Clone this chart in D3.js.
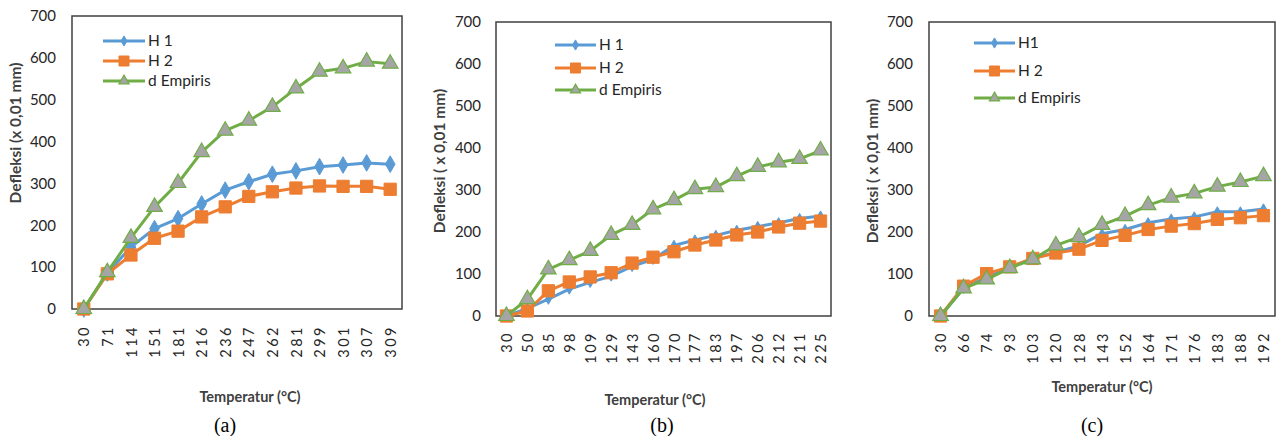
<!DOCTYPE html>
<html>
<head>
<meta charset="utf-8">
<script src="https://cdn.jsdelivr.net/npm/d3@7"></script>
<style>
  body { margin: 0; background: #fff; }
  svg { display: block; }
</style>
</head>
<body>
<div id="graphsRoot"></div>
<script>
// values
var catsA = ["30","71","114","151","181","216","236","247","262","281","299","301","307","309"];
var h1A   = [0, 86, 148, 192, 216, 251, 284, 304, 322, 330, 340, 344, 349, 346];
var h2A   = [0, 84, 129, 169, 186, 220, 244, 269, 280, 289, 294, 293, 293, 286];
var empA  = [0, 88, 170, 244, 301, 375, 426, 450, 483, 527, 567, 575, 591, 586];

var catsB = ["30","50","85","98","109","129","143","160","170","177","183","197","206","212","211","225"];
var h1B   = [0, 18, 40, 64, 80, 95, 118, 135, 168, 181, 192, 204, 213, 222, 232, 238];
var h2B   = [0, 12, 60, 81, 93, 103, 126, 140, 153, 169, 181, 193, 200, 212, 221, 226];
var empB  = [0, 40, 111, 133, 155, 193, 217, 254, 276, 302, 307, 333, 355, 366, 374, 394];

var catsC = ["30","66","74","93","103","120","128","143","152","164","171","176","183","188","192"];
var h1C   = [0, 66, 92, 115, 137, 152, 167, 196, 206, 222, 231, 236, 248, 248, 255];
var h2C   = [0, 71, 101, 117, 137, 150, 159, 180, 192, 206, 214, 220, 230, 234, 239];
var empC  = [0, 66, 87, 114, 135, 168, 188, 217, 238, 264, 282, 292, 308, 319, 333];

var yTicks = [0, 100, 200, 300, 400, 500, 600, 700];
var seriesNames = [["H 1","H 2","d Empiris"], ["H 1","H 2","d Empiris"], ["H1","H 2","d Empiris"]];
var captions = ["(a)", "(b)", "(c)"];
var yTitles = ["Defleksi (x 0,01 mm)", "Defleksi ( x 0,01 mm)", "Defleksi ( x 0,01 mm)"];
var xTitle = "Temperatur (\u00b0C)";

var blue = "#5B9BD5", orange = "#ED7D31", green = "#70AD47", grey = "#A5A5A5";
var textFont = "Lato, 'Open Sans', sans-serif";

var svg = d3.select("#graphsRoot").append("svg")
    .attr("width", 1277)
    .attr("height", 436);

// layout of each panel (pixels)
var panels = [
    {cats: catsA, data: [h1A, h2A, empA], left: 72, right: 402, top: 16, bottom: 309,
     yLab: 56, yTitleX: 16, yTitleY: 133, xTitleX: 250, xTitleY: 402, capX: 225,
     legX0: 103, legX1: 145, legY: [41, 61, 81], tickTop: 325, dia: 80},
    {cats: catsB, data: [h1B, h2B, empB], left: 496, right: 831, top: 22, bottom: 316,
     yLab: 481, yTitleX: 440, yTitleY: 161, xTitleX: 655, xTitleY: 405, capX: 662,
     legX0: 555, legX1: 596, legY: [45, 68, 90], tickTop: 331, dia: 30},
    {cats: catsC, data: [h1C, h2C, empC], left: 929, right: 1275, top: 22, bottom: 316,
     yLab: 913, yTitleX: 873, yTitleY: 171, xTitleX: 1102, xTitleY: 392, capX: 1092,
     legX0: 974, legX1: 1015, legY: [43, 71, 98], tickTop: 331, dia: 30}
];

for (var p = 0; p < panels.length; p++) {
    makePanel(panels[p], p);
}

function markerFor(k, panel) {
    if (k == 0) return d3.symbol().type(d3.symbolDiamond).size(panel.dia)();
    if (k == 1) return d3.symbol().type(d3.symbolSquare).size(150)();
    return d3.symbol().type(d3.symbolTriangle).size(105)();
}

function styleMarker(sel, k) {
    if (k == 0) sel.attr("fill", blue).attr("stroke", blue).attr("stroke-width", 1);
    else if (k == 1) sel.attr("fill", orange).attr("stroke", orange).attr("stroke-width", 1);
    else sel.attr("fill", grey).attr("stroke", green).attr("stroke-width", 1.2);
}

function makePanel(panel, idx) {
    var g = svg.append("g");
    var colors = [blue, orange, green];

    var x = d3.scalePoint()
        .domain(panel.cats)
        .range([panel.left, panel.right])
        .padding(0.5);

    var y = d3.scaleLinear()
        .domain([0, 700])
        .range([panel.bottom, panel.top]);

    // y axis labels
    var yAxis = g.append("g")
        .attr("transform", "translate(" + panel.yLab + ",0)")
        .call(d3.axisLeft(y).tickValues(yTicks).tickSize(0).tickPadding(0));
    yAxis.select(".domain").remove();
    yAxis.selectAll("text")
        .attr("font-family", textFont)
        .attr("font-size", 15)
        .attr("fill", "#262626");

    // x axis labels, rotated
    var xAxis = g.append("g")
        .attr("transform", "translate(0," + panel.tickTop + ")")
        .call(d3.axisBottom(x).tickSize(0).tickPadding(0));
    xAxis.select(".domain").remove();
    xAxis.selectAll("text")
        .attr("font-family", textFont)
        .attr("font-size", 14.5)
        .attr("fill", "#262626")
        .attr("letter-spacing", "2.5px")
        .attr("text-anchor", "end")
        .attr("y", 0)
        .attr("dy", "0.35em")
        .attr("transform", "rotate(-90)");

    // plot frame
    g.append("rect")
        .attr("x", panel.left)
        .attr("y", panel.top)
        .attr("width", panel.right - panel.left)
        .attr("height", panel.bottom - panel.top)
        .attr("fill", "none")
        .attr("stroke", "#404040")
        .attr("stroke-width", 1.5);

    var line = d3.line()
        .x(function(d, i) { return x(panel.cats[i]); })
        .y(function(d) { return y(d); });

    for (var k = 0; k < 3; k++) {
        g.append("path")
            .datum(panel.data[k])
            .attr("d", line)
            .attr("fill", "none")
            .attr("stroke", colors[k])
            .attr("stroke-width", 3)
            .attr("stroke-linejoin", "round");

        var pts = g.selectAll(".m" + k)
            .data(panel.data[k])
            .enter().append("path")
            .attr("class", "m" + k)
            .attr("d", markerFor(k, panel))
            .attr("transform", function(d, i) { return "translate(" + x(panel.cats[i]) + "," + y(d) + ")"; });
        styleMarker(pts, k);

        // legend entry
        var ly = panel.legY[k];
        g.append("line")
            .attr("x1", panel.legX0).attr("x2", panel.legX1)
            .attr("y1", ly).attr("y2", ly)
            .attr("stroke", colors[k])
            .attr("stroke-width", 3);
        var lm = g.append("path")
            .attr("d", k == 1 ? d3.symbol().type(d3.symbolSquare).size(100)() :
                       k == 0 ? d3.symbol().type(d3.symbolDiamond).size(30)() :
                                d3.symbol().type(d3.symbolTriangle).size(45)())
            .attr("transform", "translate(" + ((panel.legX0 + panel.legX1) / 2) + "," + ly + ")");
        styleMarker(lm, k);
        g.append("text")
            .attr("x", panel.legX1 + 3)
            .attr("y", ly)
            .attr("dy", "0.35em")
            .attr("font-family", textFont)
            .attr("font-size", 15.5)
            .attr("fill", "#262626")
            .text(seriesNames[idx][k]);
    }

    // axis titles
    g.append("text")
        .attr("transform", "translate(" + panel.yTitleX + "," + panel.yTitleY + ") rotate(-90)")
        .attr("text-anchor", "middle")
        .attr("dy", "0.35em")
        .attr("font-family", textFont)
        .attr("font-size", 15.5)
        .attr("font-weight", "bold")
        .attr("fill", "#404040")
        .text(yTitles[idx]);

    g.append("text")
        .attr("x", panel.xTitleX)
        .attr("y", panel.xTitleY)
        .attr("text-anchor", "middle")
        .attr("font-family", textFont)
        .attr("font-size", 14.5)
        .attr("font-weight", "bold")
        .attr("fill", "#404040")
        .text(xTitle);

    // caption under the panel
    g.append("text")
        .attr("x", panel.capX)
        .attr("y", 432)
        .attr("text-anchor", "middle")
        .attr("font-family", "'Liberation Serif', 'Times New Roman', serif")
        .attr("font-size", 20)
        .attr("fill", "#000")
        .text(captions[idx]);
}
</script>
</body>
</html>
